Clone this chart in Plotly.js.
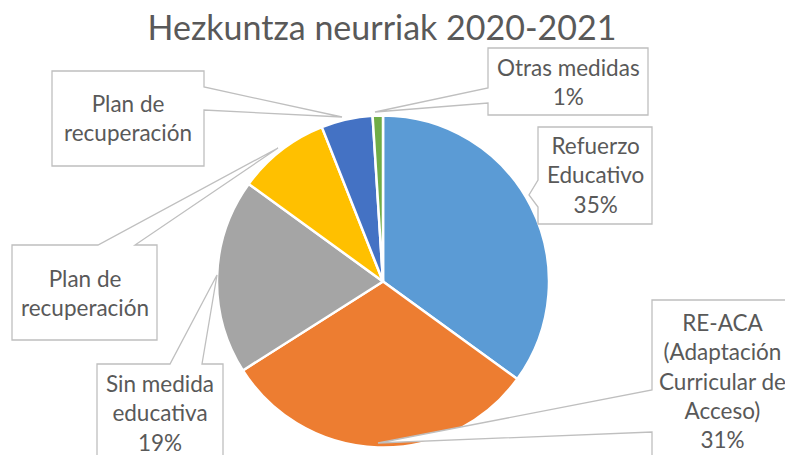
<!DOCTYPE html>
<html>
<head>
<meta charset="utf-8">
<script src="https://cdn.plot.ly/plotly-3.0.1.min.js"></script>
<style>
  html, body { margin: 0; padding: 0; background: #fff; }
  #chart { width: 785px; height: 455px; }
</style>
</head>
<body>
<div id="chart"></div>
<script>
// Pie of educational measures 2020-2021, Excel-style callout labels.

const W = 785, H = 455;

const categories = [
  "Refuerzo Educativo",
  "RE-ACA (Adaptación Curricular de Acceso)",
  "Sin medida educativa",
  "Plan de recuperación",
  "Plan de recuperación",
  "Otras medidas",
];
const shares = [35, 31, 19, 9, 5, 1];
const sliceColors = ["#5B9BD5", "#ED7D31", "#A5A5A5", "#FFC000", "#4472C4", "#70AD47"];

// label text as wrapped inside the callouts (the two "Plan" boxes lost their %)
const labelLines = [
  ["Refuerzo", "Educativo"],
  ["RE-ACA", "(Adaptación", "Curricular de", "Acceso)"],
  ["Sin medida", "educativa"],
  ["Plan de", "recuperación"],
  ["Plan de", "recuperación"],
  ["Otras medidas"],
];
const showPct = [true, true, true, false, false, true];

// callout geometry in px: box [x0,y0,x1,y1], side the pointer leaves from, pointer base, tip
const callouts = [
  { box: [538, 127, 652, 224], side: "left", base: [180, 207], tip: [529, 195] },
  { box: [652, 300, 792, 462], side: "left", base: [390, 432], tip: [378, 443] },
  { box: [97, 364, 223, 462], side: "top", base: [170, 202], tip: [217, 275] },
  { box: [12, 245, 157, 340], side: "top", base: [98, 135], tip: [278, 148] },
  { box: [52, 71, 204, 166], side: "right", base: [87, 110], tip: [342, 117] },
  { box: [488, 48, 648, 115], side: "left", base: [88, 103], tip: [375, 112] },
];

const FONT = "Lato, 'Open Sans', sans-serif";
const TEXT = "#595959";

const px = (x) => x / W;
const py = (y) => 1 - y / H;

function calloutPath(c) {
  const [x0, y0, x1, y1] = c.box;
  const [b1, b2] = c.base;
  const t = c.tip;
  let pts;
  if (c.side === "left") {
    pts = [[x0, y0], [x1, y0], [x1, y1], [x0, y1], [x0, b2], t, [x0, b1]];
  } else if (c.side === "right") {
    pts = [[x0, y0], [x1, y0], [x1, b1], t, [x1, b2], [x1, y1], [x0, y1]];
  } else {
    pts = [[x0, y0], [b1, y0], t, [b2, y0], [x1, y0], [x1, y1], [x0, y1]];
  }
  return pts.map((p, i) => `${i ? "L" : "M"}${px(p[0]).toFixed(5)},${py(p[1]).toFixed(5)}`).join(" ") + " Z";
}

const trace = {
  type: "pie",
  labels: categories.map((_, i) => "s" + i), // duplicates would be merged by plotly
  values: shares,
  sort: false,
  direction: "clockwise",
  rotation: 0,
  textinfo: "none",
  hovertext: categories,
  hoverinfo: "text+percent",
  marker: { colors: sliceColors, line: { color: "#ffffff", width: 2.5 } },
  domain: { x: [px(217), px(549)], y: [py(448), py(115)] },
  showlegend: false,
};

const shapes = callouts.map((c) => ({
  type: "path",
  xref: "paper",
  yref: "paper",
  path: calloutPath(c),
  fillcolor: "#ffffff",
  line: { color: "#BFBFBF", width: 1.3 },
  layer: "above",
}));

const annotations = callouts.map((c, i) => {
  const lines = labelLines[i].slice();
  if (showPct[i]) lines.push(shares[i] + "%");
  return {
    xref: "paper",
    yref: "paper",
    x: px((c.box[0] + c.box[2]) / 2),
    y: py((c.box[1] + c.box[3]) / 2),
    xanchor: "center",
    yanchor: "middle",
    showarrow: false,
    align: "center",
    text: lines.join("<br>"),
    font: { family: FONT, size: 22.5, color: TEXT },
  };
});

const layout = {
  width: W,
  height: H,
  margin: { l: 0, r: 0, t: 0, b: 0 },
  paper_bgcolor: "#ffffff",
  title: {
    text: "Hezkuntza neurriak 2020-2021",
    font: { family: FONT, size: 34, color: TEXT },
    x: px(382),
    xanchor: "center",
    y: py(28),
    yanchor: "middle",
    yref: "container",
  },
  shapes,
  annotations,
};

Plotly.newPlot("chart", [trace], layout, { displayModeBar: false, staticPlot: true });
</script>
</body>
</html>
